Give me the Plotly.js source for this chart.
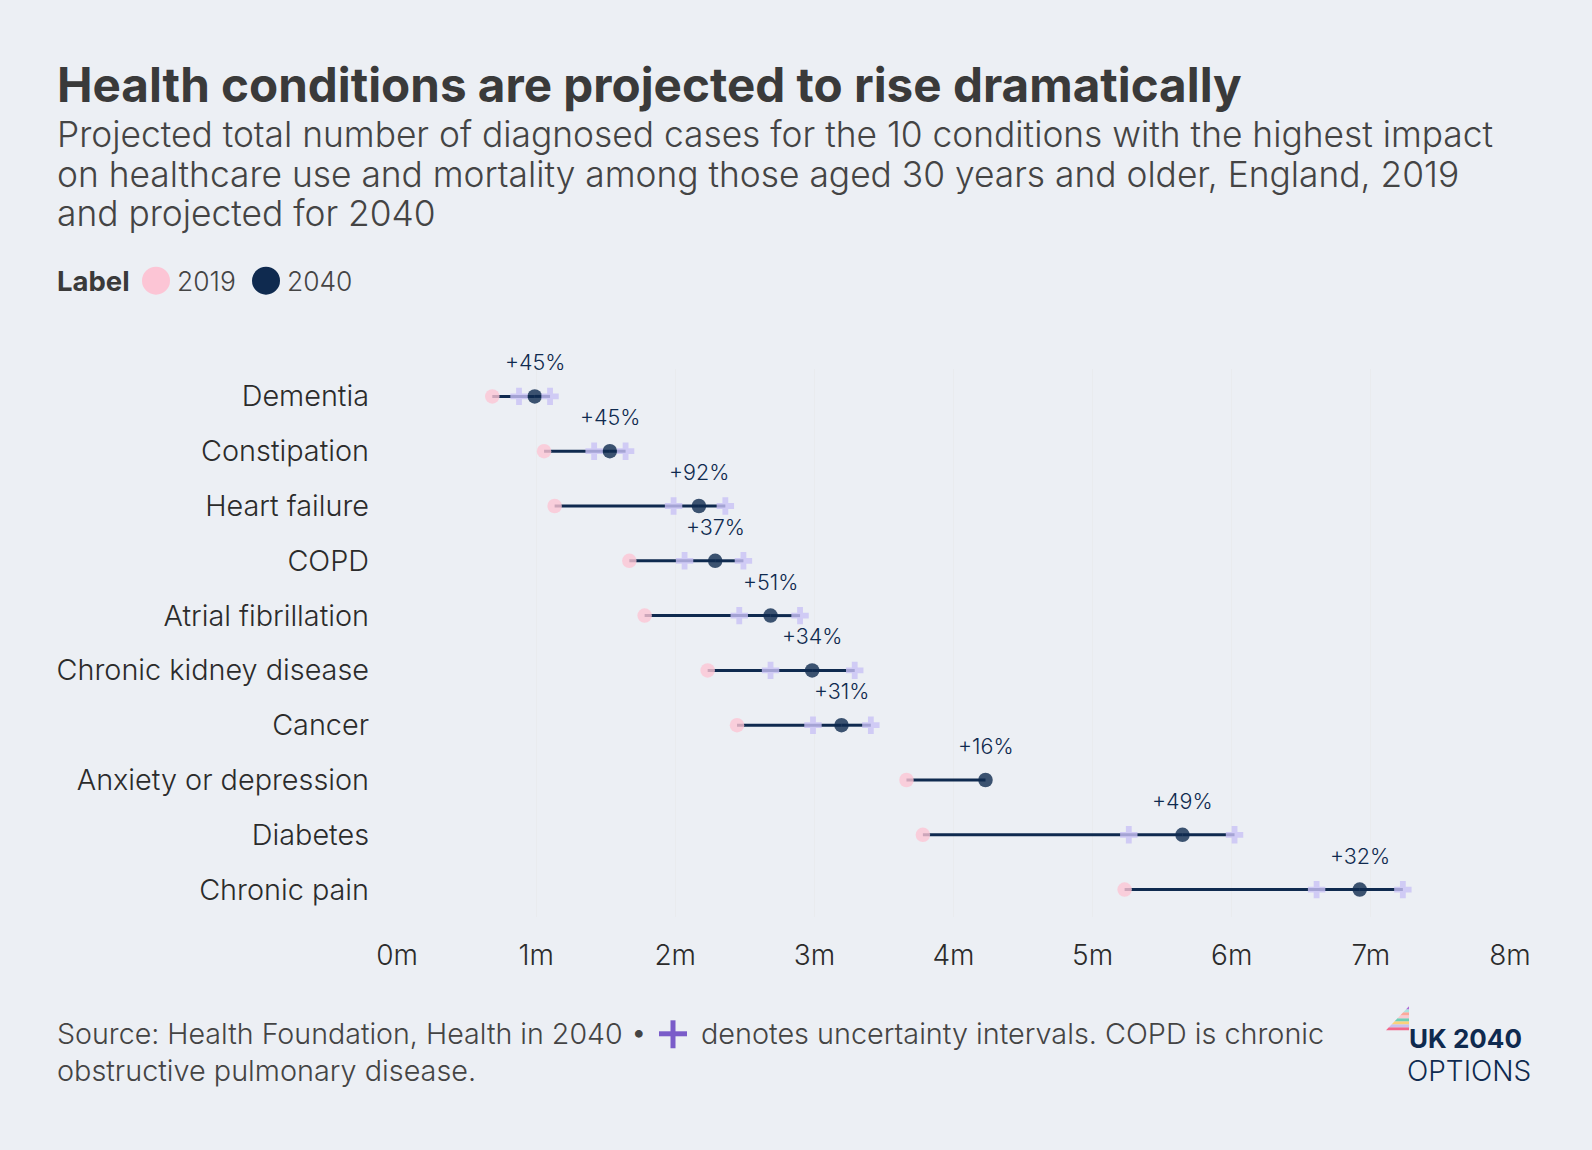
<!DOCTYPE html>
<html><head><meta charset="utf-8">
<script src="https://cdn.plot.ly/plotly-3.0.1.min.js"></script>
<style>html,body{margin:0;padding:0;background:#eceff4}</style></head>
<body><div id="chart" style="width:1592px;height:1150px"></div>
<script>
const categories=["Dementia","Constipation","Heart failure","COPD","Atrial fibrillation","Chronic kidney disease","Cancer","Anxiety or depression","Diabetes","Chronic pain"];
const values2019=[0.685,1.057,1.133,1.67,1.78,2.233,2.444,3.662,3.78,5.23];
const values2040=[0.99,1.53,2.17,2.287,2.685,2.984,3.195,4.23,5.646,6.92];
const lower2040=[0.877,1.417,1.988,2.067,2.46,2.685,2.99,null,5.26,6.61];
const upper2040=[1.10,1.643,2.36,2.49,2.897,3.29,3.406,null,6.02,7.23];
const changeLabels=["+45%","+45%","+92%","+37%","+51%","+34%","+31%","+16%","+49%","+32%"];
const xTickVals=[0,1,2,3,4,5,6,7,8];
const xTickText=["0m","1m","2m","3m","4m","5m","6m","7m","8m"];
const subtitleLines=["Projected total number of diagnosed cases for the 10 conditions with the highest impact","on healthcare use and mortality among those aged 30 years and older, England, 2019","and projected for 2040"];

const FONT="Inter, 'Noto Sans', sans-serif";
const W=1592,H=1150,L=397,R=1510,T=368.5,B=917.5;
const px=x=>(x-L)/(R-L), py=y=>(B-y)/(B-T);
const lineX=[],lineY=[];
categories.forEach((c,i)=>{lineX.push(values2019[i],values2040[i],null);lineY.push(c,c,null);
 if(upper2040[i]!==null){lineX.push(values2040[i],upper2040[i],null);lineY.push(c,c,null);}});

const traces=[
 {type:'scatter',mode:'lines',x:lineX,y:lineY,line:{color:'#0f2a4f',width:3},hoverinfo:'skip',showlegend:false},
 {type:'scatter',mode:'markers',name:'2019',x:values2019,y:categories,marker:{size:14.5,color:'#fcc5d5',opacity:.8},showlegend:false},
 {type:'scatter',mode:'markers',name:'2040',x:values2040,y:categories,marker:{size:14.5,color:'#0f2a4f',opacity:.8},showlegend:false},
 {type:'scatter',mode:'markers',name:'Lower',x:lower2040,y:categories,marker:{symbol:'cross',size:14.5,color:'#c9c2f5',opacity:.8,line:{width:0}},showlegend:false},
 {type:'scatter',mode:'markers',name:'Upper',x:upper2040,y:categories,marker:{symbol:'cross',size:14.5,color:'#c9c2f5',opacity:.8,line:{width:0}},showlegend:false}
];
const txt=(t,x,y,size,color,o={})=>Object.assign({text:t,xref:'paper',yref:'paper',x:px(x),y:py(y),xanchor:'left',yanchor:'middle',showarrow:false,align:'left',borderpad:0,font:{family:FONT,size,color,weight:300}},o);
const annotations=[];
categories.forEach((c,i)=>annotations.push({text:changeLabels[i],x:values2040[i],y:c,xref:'x',yref:'y',yshift:34,showarrow:false,font:{family:FONT,size:21.5,color:'#0f2a4f',weight:300}}));
subtitleLines.forEach((t,i)=>annotations.push(txt(t,56,133.5+i*39.7,35.35,'#444')));
annotations.push(txt('Label',56,280,27.5,'#3a3a3a',{font:{family:FONT,size:27.5,color:'#3a3a3a',weight:700}}));
annotations.push(txt('2019',176,280,26.4,'#444'));
annotations.push(txt('2040',286,280,26.4,'#444'));
annotations.push(txt("Source: Health Foundation, Health in 2040 •",56,1034,28.6,'#444'));
annotations.push(txt("denotes uncertainty intervals. COPD is chronic",700,1034,28.8,'#444'));
annotations.push(txt("obstructive pulmonary disease.",56,1071,28.8,'#444'));
annotations.push(txt("UK 2040",1408,1039.5,26,'#0f2a4f',{font:{family:FONT,size:26,color:'#0f2a4f',weight:700}}));
annotations.push(txt("OPTIONS",1406,1071.5,28,'#0f2a4f'));

const circle=(cx,cy,r,col)=>({type:'circle',xref:'paper',yref:'paper',x0:px(cx-r),x1:px(cx+r),y0:py(cy+r),y1:py(cy-r),fillcolor:col,line:{width:0}});
const shapes=[circle(156,280,14,'#fcc5d5'),circle(266,280,14,'#0f2a4f')];
const rect=(x0,y0,x1,y1,col)=>({type:'rect',xref:'paper',yref:'paper',x0:px(x0),x1:px(x1),y0:py(y1),y1:py(y0),fillcolor:col,line:{width:0}});
shapes.push(rect(659,1032,687,1037,'#7a5cc9'),rect(670.5,1021,675.5,1049,'#7a5cc9'));
const stripes=['#f2688c','#c9c2ee','#fbd27c','#6fcfb6','#fbc9cf','#fba99a','#aee4e0','#b06ad8'];
const lx0=1386,lx1=1409,ly0=1031,ly1=1007;
stripes.forEach((c,i)=>{const a=ly0-(ly0-ly1)*i/8,b=ly0-(ly0-ly1)*(i+1)/8;
 const xa=lx0+(lx1-lx0)*i/8,xb=lx0+(lx1-lx0)*(i+1)/8;
 shapes.push({type:'path',xref:'paper',yref:'paper',path:`M${px(xa)},${py(a)}L${px(lx1)},${py(a)}L${px(lx1)},${py(b)}L${px(xb)},${py(b)}Z`,fillcolor:c,line:{width:0}});});

const layout={width:W,height:H,paper_bgcolor:'#eceff4',plot_bgcolor:'#eceff4',showlegend:false,
 margin:{l:L,r:W-R,t:T,b:H-B,pad:0},
 title:{text:'<b>Health conditions are projected to rise dramatically</b>',x:57/W,xanchor:'left',xref:'container',y:1-85/H,yanchor:'middle',yref:'container',font:{family:FONT,size:47.6,color:'#3a3a3a'}},
 xaxis:{range:[0,8],tickvals:xTickVals,ticktext:xTickText,showgrid:true,gridcolor:'#e9ebee',gridwidth:1,zeroline:false,showline:false,ticks:'',ticklabelstandoff:19,tickfont:{family:FONT,size:28,color:'#2b2b2b',weight:300},fixedrange:true},
 yaxis:{type:'category',categoryorder:'array',categoryarray:categories,range:[9.5,-0.5],showgrid:false,zeroline:false,showline:false,ticks:'',ticklabelstandoff:27,tickfont:{family:FONT,size:28.8,color:'#2b2b2b',weight:300},fixedrange:true},
 annotations,shapes};
Plotly.newPlot('chart',traces,layout,{displayModeBar:false,responsive:false});
</script></body></html>
